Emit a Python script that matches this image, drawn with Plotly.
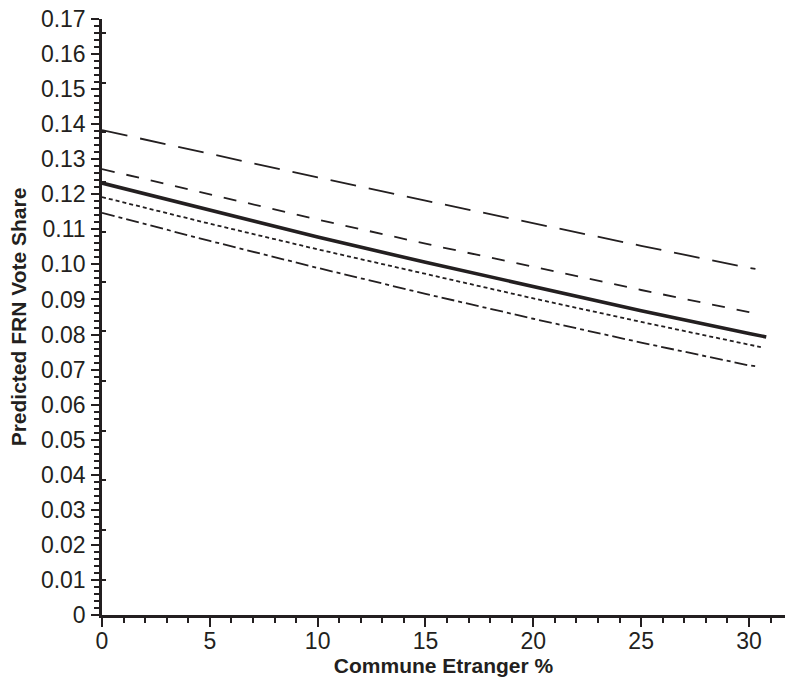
import plotly.graph_objects as go

# ---- data ----
x_pts = [0, 5, 10, 15, 20, 25, 30]

long_dash_x = x_pts + [30.3]
long_dash_y = [0.1383, 0.1315, 0.1248, 0.1182, 0.1117, 0.1053, 0.0990, 0.0987]

med_dash_x = x_pts + [30.5]
med_dash_y = [0.1272, 0.1199, 0.1128, 0.1059, 0.0992, 0.0927, 0.0864, 0.0858]

solid_x = x_pts + [30.8]
solid_y = [0.1232, 0.1154, 0.1078, 0.1006, 0.0936, 0.0868, 0.0803, 0.0793]

short_dot_x = x_pts + [30.55]
short_dot_y = [0.1192, 0.1116, 0.1043, 0.0972, 0.0903, 0.0836, 0.0771, 0.0764]

dash_dot_x = x_pts + [30.4]
dash_dot_y = [0.1147, 0.1067, 0.0990, 0.0916, 0.0845, 0.0777, 0.0712, 0.0709]

y_tick_vals = [0, 0.01, 0.02, 0.03, 0.04, 0.05, 0.06, 0.07, 0.08, 0.09,
               0.10, 0.11, 0.12, 0.13, 0.14, 0.15, 0.16, 0.17]
y_tick_text = ["0", "0.01", "0.02", "0.03", "0.04", "0.05", "0.06", "0.07", "0.08", "0.09",
               "0.10", "0.11", "0.12", "0.13", "0.14", "0.15", "0.16", "0.17"]
x_tick_vals = [0, 5, 10, 15, 20, 25, 30]
x_tick_text = ["0", "5", "10", "15", "20", "25", "30"]

INK = "#231f20"
FONT = "Liberation Sans, Arial, Helvetica, sans-serif"

fig = go.Figure()

def add(xs, ys, width, dash):
    fig.add_trace(go.Scatter(x=xs, y=ys, mode="lines",
                             line=dict(color=INK, width=width, dash=dash),
                             hoverinfo="skip", showlegend=False))

add(long_dash_x, long_dash_y, 1.8, "26px,13px")
add(med_dash_x, med_dash_y, 1.8, "13px,12px")
add(solid_x, solid_y, 3.6, "solid")
add(short_dot_x, short_dot_y, 1.8, "4px,3px")
add(dash_dot_x, dash_dot_y, 1.8, "13px,4px,4px,4px")

# helper trace so the secondary tick axis is drawn
fig.add_trace(go.Scatter(x=[None], y=[None], yaxis="y2", mode="lines",
                         showlegend=False, hoverinfo="skip"))

fig.update_layout(
    width=785, height=690,
    margin=dict(l=102, r=0, t=19, b=75),
    paper_bgcolor="white", plot_bgcolor="white",
    font=dict(family=FONT, color=INK, size=22),
    xaxis=dict(
        range=[0, 31.67], showgrid=False, zeroline=False,
        showline=True, linecolor=INK, linewidth=2.5,
        ticks="outside", ticklen=9, tickwidth=2, tickcolor=INK,
        tickvals=x_tick_vals, ticktext=x_tick_text,
        tickfont=dict(size=23, family=FONT, color=INK),
        ticklabelstandoff=-5,
        minor=dict(dtick=1, ticks="outside", ticklen=5, tickwidth=2, tickcolor=INK),
        title=dict(text="<b>Commune Etranger %</b>", font=dict(size=21, family=FONT, color=INK),
                   standoff=1),
    ),
    yaxis=dict(
        range=[0, 0.17], showgrid=False, zeroline=False,
        showline=True, linecolor=INK, linewidth=2.5,
        ticks="outside", ticklen=8, tickwidth=2, tickcolor=INK,
        tickvals=y_tick_vals, ticktext=y_tick_text,
        tickfont=dict(size=23, family=FONT, color=INK),
        ticklabelstandoff=1,
        minor=dict(dtick=0.002, tick0=0, ticks="outside", ticklen=5, tickwidth=2, tickcolor=INK),
        title=dict(text="<b>Predicted FRN Vote Share</b>", font=dict(size=21, family=FONT, color=INK),
                   standoff=9),
    ),
    yaxis2=dict(
        range=[0, 0.17], overlaying="y", side="left", showgrid=False, zeroline=False,
        showline=False, ticks="inside", ticklen=4, tickwidth=2, tickcolor=INK,
        tick0=0.0101, dtick=0.01417, showticklabels=False,
    ),
)

fig.write_html("out.html", config={"displayModeBar": False},
               post_script="document.body.style.margin='0';")
